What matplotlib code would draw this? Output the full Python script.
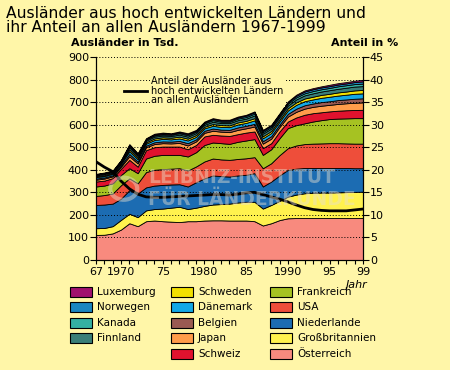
import matplotlib.pyplot as plt
from matplotlib.patches import Rectangle, Circle

# years 1967-1999
years = list(range(1967, 2000))

# foreigners in thousands, by country (bottom to top of the stack)
oesterreich = [111, 112, 118, 135, 163, 150, 172, 175, 172, 170, 168, 172, 172, 175, 176, 176, 175,
               175, 175, 172, 153, 163, 177, 185, 186, 186, 186, 186, 186, 186, 186, 186, 186]
grossbritannien = [30, 30, 32, 43, 42, 40, 48, 51, 56, 62, 68, 54, 60, 65, 70, 72, 75,
                   80, 83, 86, 75, 81, 85, 96, 104, 110, 112, 113, 113, 114, 115, 116, 117]
niederlande = [103, 104, 100, 94, 105, 105, 102, 104, 105, 103, 100, 100, 113, 122, 129, 124, 120,
               120, 120, 127, 98, 104, 113, 119, 115, 112, 110, 109, 109, 108, 107, 105, 104]
usa = [40, 42, 45, 60, 52, 45, 68, 70, 70, 70, 71, 71, 70, 75, 75, 74, 74,
       73, 73, 71, 81, 81, 90, 96, 103, 106, 108, 109, 110, 110, 109, 109, 109]
frankreich = [42, 42, 45, 45, 45, 45, 60, 62, 63, 61, 59, 62, 63, 73, 71, 72, 71,
              76, 79, 80, 59, 62, 75, 89, 90, 92, 98, 103, 107, 109, 111, 113, 113]
schweiz = [22, 22, 23, 28, 37, 29, 37, 38, 37, 37, 37, 32, 32, 38, 34, 34, 35,
           34, 35, 34, 30, 27, 30, 29, 34, 38, 37, 35, 34, 35, 36, 36, 37]
japan = [8, 9, 8, 9, 16, 14, 13, 14, 15, 14, 16, 17, 16, 16, 18, 17, 17,
         19, 19, 22, 20, 20, 20, 22, 25, 27, 28, 29, 29, 30, 31, 32, 33]
belgien = [5, 5, 5, 6, 10, 8, 7, 8, 8, 8, 9, 10, 9, 9, 10, 9, 10,
           11, 11, 12, 11, 11, 11, 12, 14, 15, 15, 16, 16, 17, 17, 18, 18]
daenemark = [6, 6, 6, 7, 12, 10, 9, 10, 11, 10, 11, 12, 11, 11, 12, 12, 12,
             13, 13, 15, 13, 14, 13, 15, 17, 18, 18, 19, 20, 20, 21, 22, 22]
schweden = [4, 4, 4, 4, 8, 7, 6, 7, 7, 7, 8, 8, 8, 7, 8, 8, 8,
            9, 9, 10, 9, 9, 9, 10, 11, 12, 12, 13, 13, 14, 14, 15, 15]
finnland = [4, 5, 4, 5, 9, 8, 7, 8, 8, 8, 9, 9, 9, 9, 10, 9, 10,
            10, 10, 12, 11, 11, 11, 12, 13, 14, 15, 15, 16, 16, 17, 17, 17]
kanada = [3, 3, 3, 3, 6, 5, 5, 5, 5, 5, 6, 6, 6, 6, 7, 6, 6,
          7, 7, 8, 7, 7, 7, 8, 9, 9, 10, 10, 10, 11, 11, 11, 11]
norwegen = [2, 2, 2, 3, 5, 4, 3, 4, 4, 4, 4, 5, 4, 4, 5, 5, 5,
            5, 6, 6, 6, 6, 6, 6, 7, 8, 8, 8, 8, 8, 8, 9, 10]
luxemburg = [2, 2, 2, 2, 4, 4, 3, 4, 4, 3, 4, 4, 4, 4, 4, 4, 4,
             4, 4, 4, 4, 4, 4, 4, 5, 5, 5, 5, 6, 6, 6, 6, 7]

# share of all foreigners in percent
anteil = [21.8, 20.6, 19.6, 17.5, 15.8, 14.6, 14.0, 13.9, 13.9, 14.0, 14.1, 14.2, 14.3, 14.4, 14.5, 14.5, 14.4,
          14.6, 14.9, 15.0, 14.5, 14.0, 13.5, 12.9, 12.2, 11.6, 11.2, 11.0, 10.9, 10.9, 10.9, 11.1, 11.3]

countries = ['Österreich', 'Großbritannien', 'Niederlande', 'USA', 'Frankreich', 'Schweiz', 'Japan',
             'Belgien', 'Dänemark', 'Schweden', 'Finnland', 'Kanada', 'Norwegen', 'Luxemburg']
values = [oesterreich, grossbritannien, niederlande, usa, frankreich, schweiz, japan,
          belgien, daenemark, schweden, finnland, kanada, norwegen, luxemburg]
colors = ['#F88A7E', '#FFF24E', '#1C6CB2', '#EE4E3A', '#A6C222', '#E0122E', '#FF9C4A',
          '#9A5A52', '#12A8E6', '#F2E000', '#3A7E78', '#34B0A2', '#1A86C0', '#A0106E']

bg = '#FFF6A8'

fig = plt.figure(figsize=(4.5, 3.7), dpi=100, facecolor=bg)
ax = fig.add_axes([0.2133, 0.2973, 0.5933, 0.5486])
ax.set_facecolor(bg)

ax.stackplot(years, *values, colors=colors, edgecolor='black', linewidth=0.6, zorder=2)

ax.set_xlim(1967, 1999)
ax.set_ylim(0, 900)
ax.set_yticks(range(0, 901, 100))
ax.set_xticks([1967, 1970, 1975, 1980, 1985, 1990, 1995, 1999])
ax.set_xticklabels(['67', '1970', '75', '1980', '85', '1990', '95', '99'], fontsize=8)
ax.set_xticks(years, minor=True)
ax.tick_params(axis='y', labelsize=8, length=4, width=0.8, pad=1)
ax.tick_params(axis='x', which='both', length=3, width=0.8, pad=2)
ax.spines['top'].set_visible(False)
for y in range(100, 901, 100):
    ax.axhline(y, color='black', linestyle=(0, (1, 2)), linewidth=0.7, zorder=3)

ax2 = ax.twinx()
ax2.plot(years, anteil, color='black', linewidth=2, zorder=4)
ax2.set_ylim(0, 45)
ax2.set_yticks(range(0, 46, 5))
ax2.tick_params(axis='y', labelsize=8, length=4, width=0.8, pad=1)
ax2.spines['top'].set_visible(False)

# line legend inside the plot
ax.plot([1970.3, 1973.1], [750, 750], color='black', linewidth=2, zorder=5)
ax.text(1973.6, 750, 'Anteil der Ausländer aus\nhoch entwickelten Ländern\nan allen Ausländern',
        fontsize=7, va='center', ha='left', linespacing=0.95, zorder=5,
        bbox=dict(facecolor=bg, edgecolor='none', pad=1))

# watermark
fig.text(0.33, 0.505, 'LEIBNIZ-INSTITUT', fontsize=13.5, fontweight='bold', color='#e8e0d0', alpha=0.45)
fig.text(0.33, 0.447, 'FÜR LÄNDERKUNDE', fontsize=13.5, fontweight='bold', color='#e8e0d0', alpha=0.45)
fig.patches.append(Circle((0.275, 0.49), 0.03, transform=fig.transFigure, fill=False,
                          edgecolor='#e8e0d0', linewidth=3, alpha=0.45))

# titles
fig.text(0.013, 1 - 18 / 370, 'Ausländer aus hoch entwickelten Ländern und',
         fontsize=11.2, va='baseline', ha='left')
fig.text(0.013, 1 - 31.5 / 370, 'ihr Anteil an allen Ausländern 1967-1999',
         fontsize=11.2, va='baseline', ha='left')
fig.text(0.158, 0.884, 'Ausländer in Tsd.', fontsize=8, fontweight='bold', va='center', ha='left')
fig.text(0.884, 0.884, 'Anteil in %', fontsize=8, fontweight='bold', va='center', ha='right')
fig.text(0.793, 0.230, 'Jahr', fontsize=8, style='italic', va='center', ha='center')

# manual legend in three columns
legend_cols = [
    ['Luxemburg', 'Norwegen', 'Kanada', 'Finnland'],
    ['Schweden', 'Dänemark', 'Belgien', 'Japan', 'Schweiz'],
    ['Frankreich', 'USA', 'Niederlande', 'Großbritannien', 'Österreich'],
]
col_x = [70, 171, 270]
for cx, names in zip(col_x, legend_cols):
    for i, name in enumerate(names):
        top = 287 + i * 15.4
        c = colors[countries.index(name)]
        fig.patches.append(Rectangle((cx / 450, 1 - (top + 10) / 370), 21.5 / 450, 10 / 370,
                                     transform=fig.transFigure, facecolor=c, edgecolor='black',
                                     linewidth=0.8))
        fig.text((cx + 27) / 450, 1 - (top + 5) / 370, name, fontsize=7.5, va='center', ha='left')

fig.savefig('out.png', dpi=100, facecolor=bg)
